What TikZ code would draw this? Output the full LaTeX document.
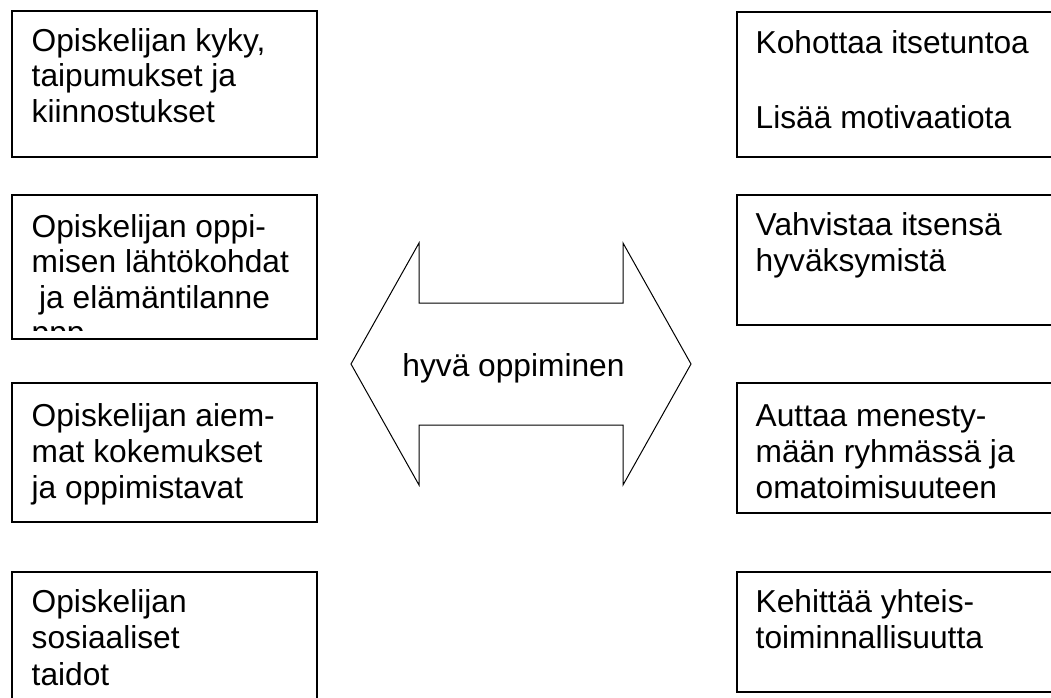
\documentclass[tikz,border=0pt]{standalone}
\usepackage{fontspec}
\setmainfont{Liberation Sans}
\tikzset{
  boxline/.style={line width=1.3pt, line cap=rect},
  lbl/.style={anchor=base west, inner sep=0pt},
  arrowshape/.style={line width=1pt, line join=miter},
}
\newcommand{\boxtext}[2]{\parbox[t]{280pt}{\raggedright\fontsize{31.7}{#1}\selectfont #2}}
\begin{document}
\begin{tikzpicture}[x=1pt,y=-1pt]
\useasboundingbox (0,0) rectangle (1051,697);
% left boxes
\draw[boxline] (12,11) rectangle (317,157);
\draw[boxline] (12,195) rectangle (317,339);
\draw[boxline] (12,383) rectangle (317,522);
\draw[boxline] (12,697) -- (12,572) -- (317,572) -- (317,697);
% right boxes (open on the right edge)
\draw[boxline] (1051,12) -- (737,12) -- (737,157) -- (1051,157);
\draw[boxline] (1051,195) -- (737,195) -- (737,325) -- (1051,325);
\draw[boxline] (1051,383) -- (737,383) -- (737,513) -- (1051,513);
\draw[boxline] (1051,572) -- (737,572) -- (737,692) -- (1051,692);
% left texts
\node[lbl] (l1) at (31.5,51) {\boxtext{35.5pt}{Opiskelijan kyky,\\taipumukset ja\\kiinnostukset}};
\node[lbl] (l2) at (31.5,237) {\boxtext{35.5pt}{Opiskelijan oppi-\\misen lähtökohdat\\\hspace*{7.5pt}ja elämäntilanne}};
\begin{scope}
  \clip (14,318) rectangle (315,330.5);
  \node[lbl] (l2b) at (31.5,343.5) {\fontsize{31.7}{35.5}\selectfont ppp};
\end{scope}
\node[lbl] (l3) at (31.5,426) {\boxtext{36pt}{Opiskelijan aiem-\\mat kokemukset\\ja oppimistavat}};
\node[lbl] (l4) at (31.5,612) {\boxtext{36.5pt}{Opiskelijan\\sosiaaliset\\taidot}};
% right texts
\node[lbl] (r1) at (755.5,53.3) {\boxtext{37.5pt}{Kohottaa itsetuntoa\\\mbox{}\\Lisää motivaatiota}};
\node[lbl] (r2) at (755.5,235) {\boxtext{36pt}{Vahvistaa itsensä\\hyväksymistä}};
\node[lbl] (r3) at (755.5,426) {\boxtext{36pt}{Auttaa menesty-\\mään ryhmässä ja\\omatoimisuuteen}};
\node[lbl] (r4) at (755.5,612) {\boxtext{36pt}{Kehittää yhteis-\\toiminnallisuutta}};
% double arrow
\draw[arrowshape] (351,364) -- (419,243) -- (419,303) -- (623,303) -- (623,243)
  -- (691,364) -- (623,485) -- (623,425) -- (419,425) -- (419,485) -- cycle;
\node[anchor=base, inner sep=0pt] (mid) at (513.5,376) {\fontsize{31.7}{36}\selectfont hyvä oppiminen};
\end{tikzpicture}
\end{document}
